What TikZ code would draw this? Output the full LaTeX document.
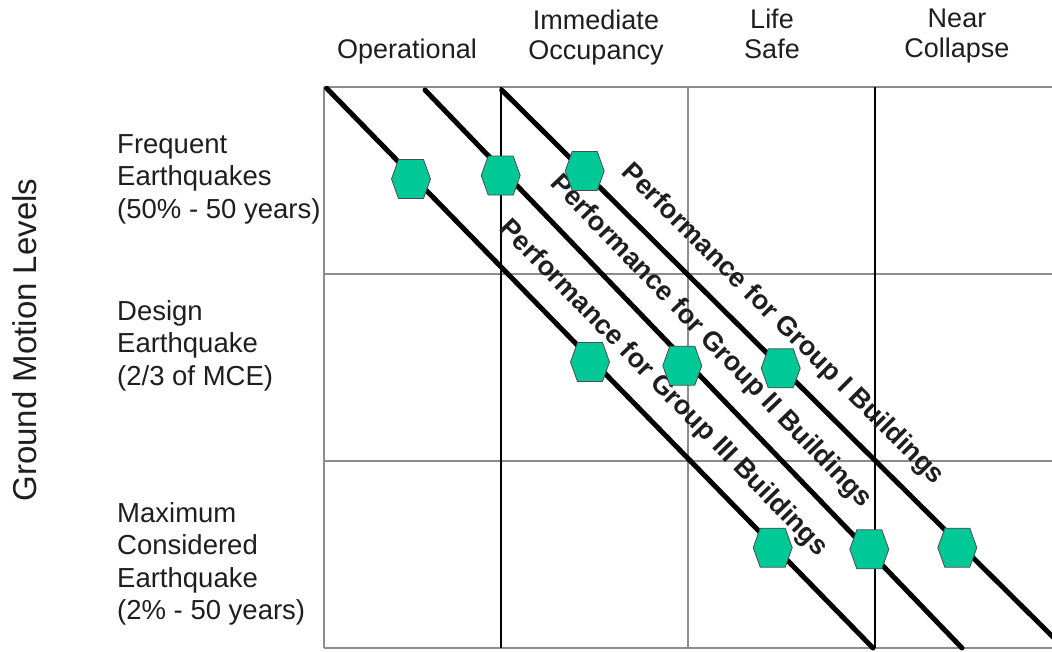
\documentclass[tikz,border=0pt]{standalone}
\usepackage{fontspec}
\setmainfont{Liberation Sans}
\usepackage{xcolor}
\usepackage{tikz}
\usetikzlibrary{calc}
\definecolor{hexgreen}{RGB}{0,200,150}
\definecolor{gridgray}{RGB}{140,140,140}
\definecolor{ink}{RGB}{30,30,30}
\newcommand{\Hexa}[1]{%
	\filldraw[fill=hexgreen, draw=black!70, line width=0.8pt] ($ (#1)+(-19.5,0) $) -- ++(7,-19.5) -- ++(25,0) -- ++(7,19.5) -- ++(-7,19.5) -- ++(-25,0) -- cycle;%
}
\tikzset{
	head/.style={align=center, inner sep=0pt, text=ink, font=\fontsize{27}{30}\selectfont},
	side/.style={align=left, inner sep=0pt, text=ink, font=\fontsize{27.5}{32.5}\selectfont},
	perf/.style={line width=5pt, black},
	perflabel/.style={sloped, above=16pt, inner sep=0pt, text=ink, font=\fontsize{27}{27}\selectfont\bfseries}
}

\begin{document}
\begin{tikzpicture}[x=1pt, y=-1pt, line cap=round]
	\def\gridw{1.5pt}
	\def\xl{324}
	\def\xr{1052}
	\def\yt{87}
	\def\yb{648}

	\useasboundingbox (0,0) rectangle (1052,651);

	% grid
	\foreach \y in {\yt, 274, 461, \yb}
		\draw[gridgray, line width=\gridw, line cap=butt] (\xl,\y) -- (\xr,\y);
	\foreach \x/\c in {324/gridgray, 501/black, 688/gridgray, 875/black}
		\draw[\c, line width=\gridw, line cap=butt] (\x,\yt) -- (\x,\yb);

	% column heads
	\node[head, anchor=north] (oper) at (407,39) {Operational};
	\node[head, anchor=north] (immocc) at (596,10) {Immediate\\Occupancy};
	\node[head, anchor=north] (lifesafe) at (772,9) {Life\\Safe};
	\node[head, anchor=north] (nearcol) at (957,9) {Near\\Collapse};

	% row heads
	\node[side, anchor=north west] (freq) at (117,134) {Frequent\\Earthquakes\\(50\% - 50 years)};
	\node[side, anchor=north west] (design) at (117,300) {Design\\Earthquake\\(2/3 of MCE)};
	\node[side, anchor=north west] (maxcon) at (117,502) {Maximum\\Considered\\Earthquake\\(2\% - 50 years)};
	\node[rotate=90, inner sep=0pt, text=ink, font=\fontsize{33}{33}\selectfont] (gml) at (25,340) {Ground Motion Levels};

	% performance lines
	\coordinate (A1) at (326.7,88.3);
	\coordinate (B1) at (873,648);
	\coordinate (A2) at (425,90);
	\coordinate (B2) at (962,648);
	\coordinate (A3) at (501.7,90);
	\coordinate (B3) at (1058,642);

	\draw[perf] (A1) -- node[perflabel, pos=0.575] (lblIII) {Performance for Group III Buildings} (B1);
	\draw[perf] (A2) -- node[perflabel, pos=0.49] (lblII) {Performance for Group II Buildings} (B2);
	\draw[perf] (A3) -- node[perflabel, pos=0.465] (lblI) {Performance for Group I Buildings} (B3);

	% hexagons
	\coordinate (H11) at (411,179);
	\coordinate (H12) at (590,362);
	\coordinate (H13) at (772.7,547.7);
	\coordinate (H21) at (500.7,175.5);
	\coordinate (H22) at (682.3,365.7);
	\coordinate (H23) at (869.3,549.3);
	\coordinate (H31) at (584.7,171);
	\coordinate (H32) at (780.7,368.3);
	\coordinate (H33) at (957.3,547.7);
	\foreach \h in {H11,H12,H13,H21,H22,H23,H31,H32,H33}{
		\Hexa{\h}
	}
\end{tikzpicture}
\end{document}
